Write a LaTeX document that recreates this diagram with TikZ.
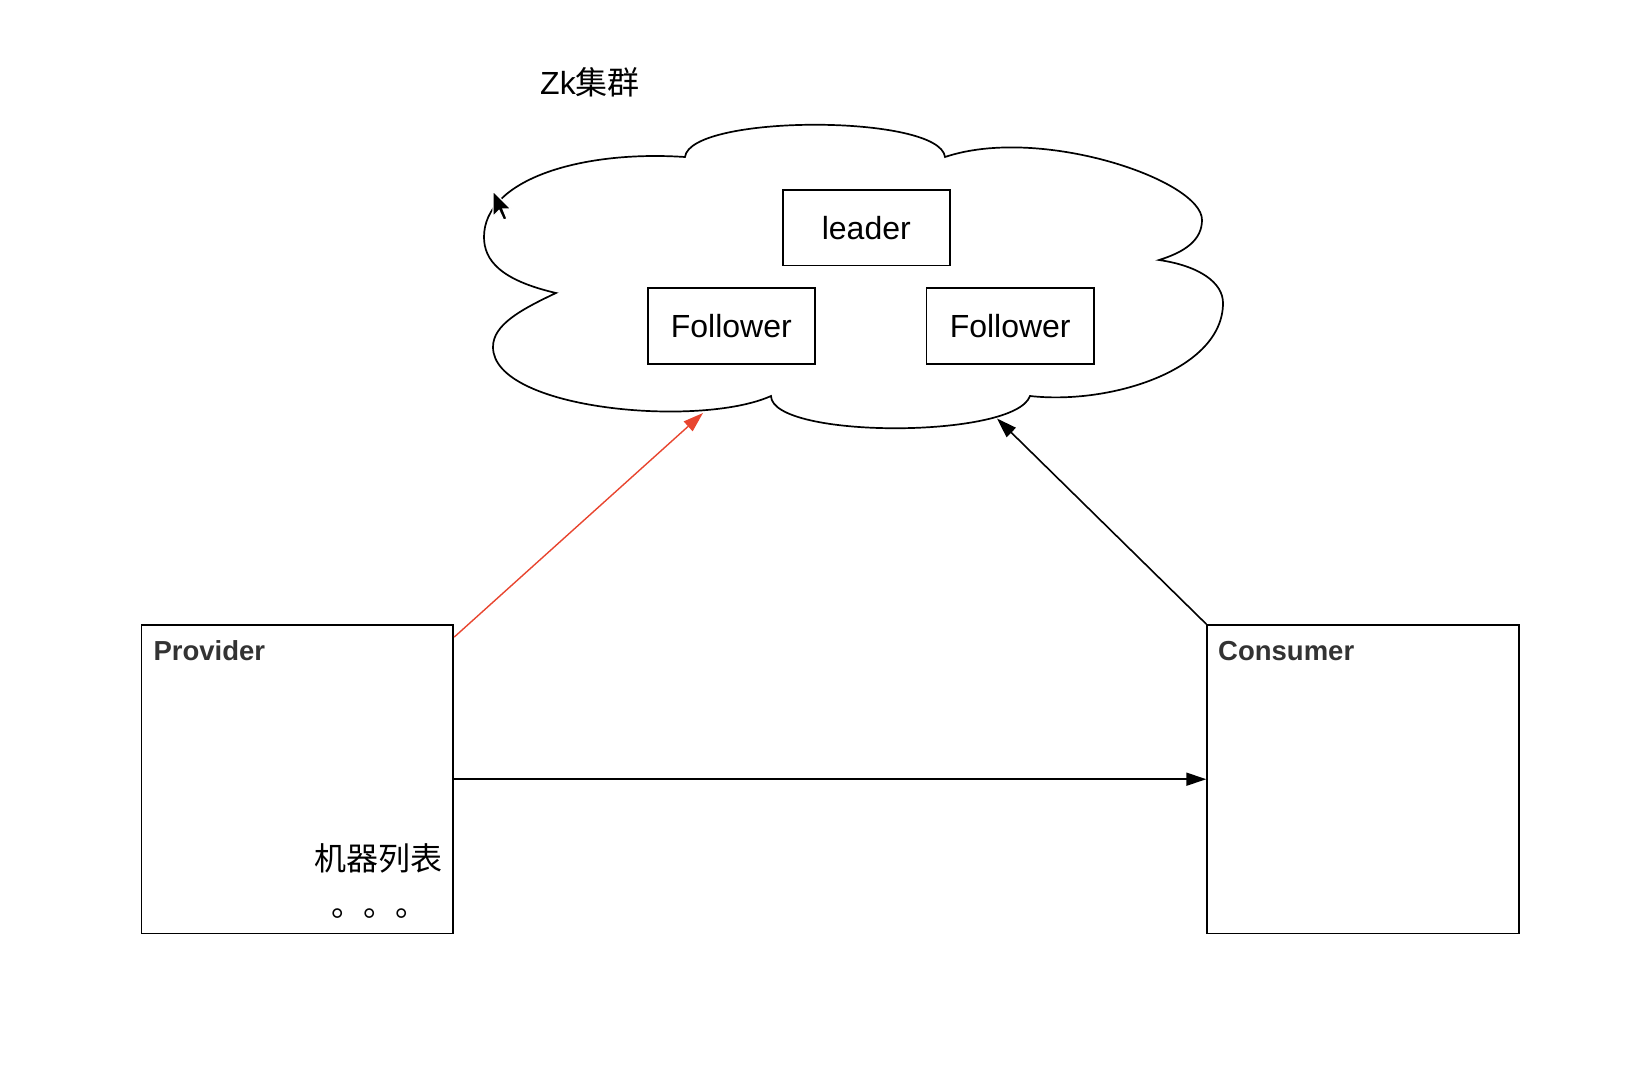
\documentclass[tikz,border=0pt]{standalone}
\usepackage{fontspec}
\setmainfont{Liberation Sans}
\newfontfamily\cjk{Noto Sans CJK SC}
\usetikzlibrary{arrows.meta}
\definecolor{redline}{HTML}{E8452F}
\definecolor{lbl}{HTML}{333333}
\begin{document}
\begin{tikzpicture}[x=1pt,y=-1pt,
  bigbox/.style={draw, line width=1.8pt, inner sep=0pt, minimum width=311.8pt, minimum height=308.4pt},
  zkbox/.style={draw, line width=1.8pt, inner sep=0pt, minimum width=167.4pt, minimum height=75.8pt, font=\fontsize{32}{38}\selectfont},
  boldlbl/.style={inner sep=0pt, anchor=base west, text=lbl, font=\fontsize{27.5}{33}\selectfont\bfseries},
  cjktext/.style={inner sep=0pt, font=\fontsize{32}{38}\selectfont\cjk},
  arr/.style={line width=1.6pt, -{Triangle[length=20pt,width=13pt]}},
  redarr/.style={draw=redline, line width=1.4pt, -{Triangle[length=20pt,width=13pt]}, redline},
  cloudline/.style={line width=1.7pt, line join=miter}
]
\useasboundingbox (0,0) rectangle (1630,1086);

% title
\node[inner sep=0pt, anchor=base west, font=\fontsize{32}{38}\selectfont] (zk) at (540,94.5) {Zk{\cjk 集群}};

% cloud
\draw[cloudline]
  (685,157) .. controls (690,114) and (940,114) .. (945,157)
  .. controls (1040,125) and (1202,180) .. (1202,220)
  .. controls (1202,240) and (1185,252) .. (1159,260)
  .. controls (1200,266) and (1223,283) .. (1223,303)
  .. controls (1223,370) and (1110,405) .. (1030,396)
  .. controls (1015,439) and (772,439) .. (771,396)
  .. controls (700,428) and (493,410) .. (493,347)
  .. controls (493,325) and (520,310) .. (556,293)
  .. controls (500,280) and (484,260) .. (484,237)
  .. controls (484,180) and (580,150) .. (685,157)
  -- cycle;

% zk nodes
\node[zkbox, minimum height=75.5pt] (leader) at (866.3,227.8) {leader};
\node[zkbox] (f1) at (731.3,326) {Follower};
\node[zkbox] (f2) at (1010.2,326) {Follower};

% cursor
\fill[black, draw=white, line width=1.2pt, line join=miter] (493,191) -- ++(0,25.5) -- ++(6,-6) -- ++(4.5,9.5) -- ++(3.5,-1.2) -- ++(-4,-9.8) -- ++(8,0) -- cycle;

% provider / consumer
\node[bigbox] (prov) at (297.4,779.2) {};
\node[bigbox] (cons) at (1363.1,779.2) {};
\node[boldlbl] (ptxt) at (153.3,660.7) {Provider};
\node[boldlbl] (ctxt) at (1218,660.2) {Consumer};
\node[cjktext, anchor=base east] (list) at (443,870) {机器列表};
\node[cjktext, anchor=base west] (dots) at (331.5,916) {。。。};

% connectors
\coordinate (rtip) at (703,413);
\coordinate (btip) at (997,418.5);
\draw[redarr] ([yshift=-13pt]prov.north east) -- (rtip);
\draw[arr] (cons.north west) -- (btip);
\draw[arr] (prov.east) -- (cons.west);
\end{tikzpicture}
\end{document}
